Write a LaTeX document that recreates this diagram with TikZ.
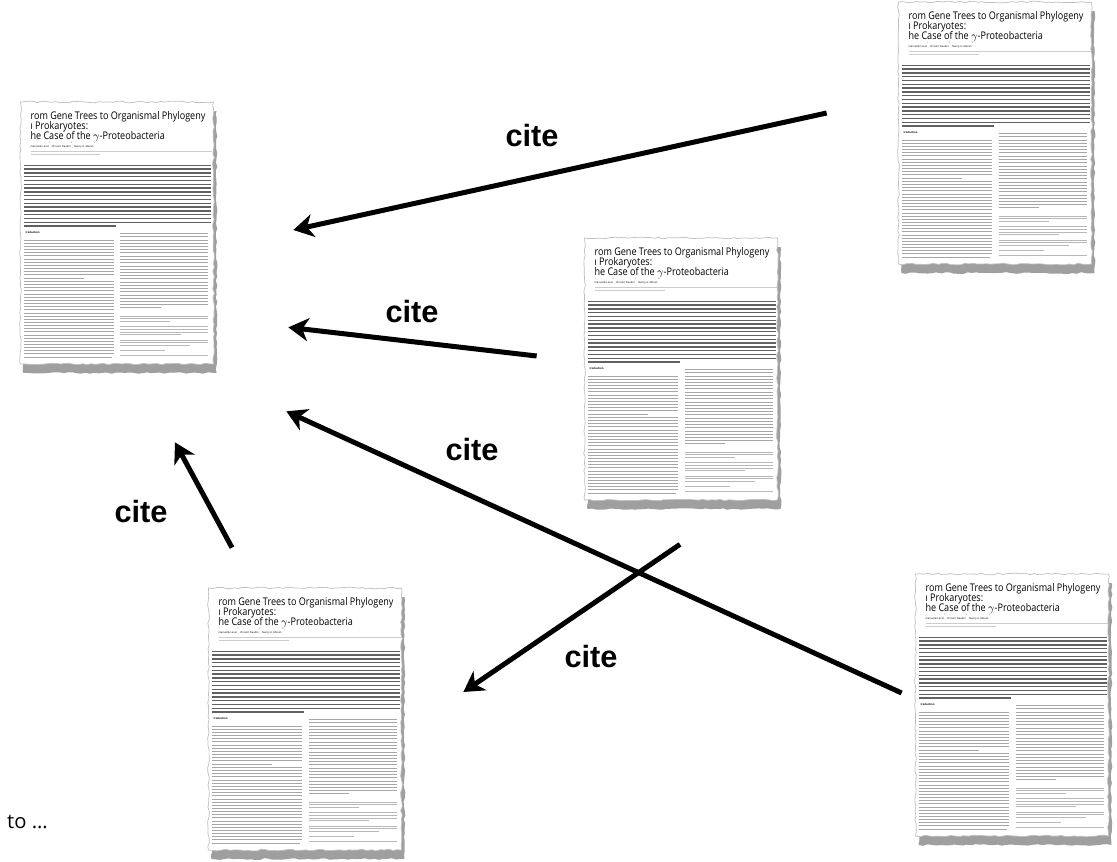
\documentclass[tikz,border=0pt]{standalone}
\usepackage{fontspec}
\usepackage{graphicx}
\usepackage{xcolor}
\usepackage{tikz}
\usetikzlibrary{shapes}
\usetikzlibrary{arrows.meta}
\usetikzlibrary{shadows}
\usetikzlibrary{decorations.pathmorphing}

\newfontfamily\paperfont{Open Sans}
\newfontfamily\citefont{Liberation Sans}

% ----- Page thumbnail ----- %
\newdimen\pp \pp=0.02cm
\newcommand\bl[2]{\vbox to #1\pp{\vfill\hbox{\smash{#2}}}}
\newcommand\txtbar[3]{\textcolor{#3}{\rule{#1\pp}{#2\pp}}}
% gap, lines, width, last width, step, thickness, colour
\newcommand\textblock[7]{%
  \foreach \k in {1,...,#2}{%
    \ifnum\k=1\relax\def\bargap{#1}\else\def\bargap{#5}\fi
    \ifnum\k=#2\relax\def\barlen{#4}\else\def\barlen{#3}\fi
    \bl{\bargap}{\txtbar{\barlen}{#6}{#7}}}}
\newcommand\titleline[1]{\hskip10\pp\scalebox{0.86}[1]{\paperfont\fontsize{6}{7}\selectfont #1}}
\newcommand\paperbody{%
  \vbox to 262\pp{\offinterlineskip
    \hrule width 193\pp height 0pt
    \bl{17}{\titleline{rom Gene Trees to Organismal Phylogeny}}
    \bl{10}{\titleline{ı Prokaryotes:}}
    \bl{10}{\titleline{he Case of the $\gamma$-Proteobacteria}}
    \bl{8}{\hskip10\pp\paperfont\fontsize{1.5}{2}\selectfont manuelle Lerat\textsuperscript{1}, Vincent Daubin\textsuperscript{2}, Nancy A. Moran\textsuperscript{1*}}
    \moveright10\pp\vbox{\textblock{4.5}{2}{182}{70}{3.5}{0.6}{black!20}}
    \moveright3\pp\vbox{\textblock{11}{17}{188}{92}{3.8}{1.35}{black!62}}
    \hbox{\hskip3\pp
      \vtop{\bl{0}{}
        \bl{6.2}{\hskip2\pp\paperfont\bfseries\fontsize{1.5}{2}\selectfont troduction}
        \textblock{7.5}{13}{90}{60}{3.15}{0.8}{black!35}
        \textblock{3.5}{25}{90}{88}{3.15}{0.8}{black!35}}%
      \hskip7\pp
      \vtop{\bl{0}{}
        \textblock{7.2}{7}{88}{88}{3.2}{0.8}{black!35}
        \textblock{3.5}{10}{88}{88}{3.2}{0.8}{black!35}
        \textblock{3.5}{7}{88}{40}{3.2}{0.8}{black!35}
        \textblock{8}{3}{88}{50}{2.6}{0.6}{black!28}
        \textblock{5.5}{4}{88}{60}{2.6}{0.6}{black!28}
        \textblock{5.5}{3}{88}{70}{2.6}{0.6}{black!28}
        \textblock{5}{1}{88}{45}{2.6}{0.6}{black!28}
        \textblock{5}{1}{88}{88}{2.6}{0.6}{black!28}}}
    \vss}}

\begin{document}
\pgfmathsetseed{11}
\begin{tikzpicture}[x=0.02cm, y=-0.02cm,
            % ----- Node definitions ----- %
            papernode/.style = {
                draw = black!25,
                rectangle,
                fill = white,
                inner sep = 0pt,
                decorate,
                decoration = {random steps, segment length = 2.5pt, amplitude = 0.5pt},
                drop shadow = {shadow xshift = 0.6mm, shadow yshift = -1.8mm, opacity = 0.5, fill = black!75}
            },
            citelabel/.style = {
                font = \citefont\bfseries\fontsize{17.5}{20}\selectfont,
                inner sep = 0pt
            },
            citearrow/.style = {
                -{Stealth[length = 0.4cm, width = 0.46cm, inset = 0.12cm]},
                line width = 0.1cm
            },
    ]
    \fill[white] (0,0) rectangle (1117,862);
    \useasboundingbox (0,0) rectangle (1117,862);

            % ----- Node constructions ----- %
        \node [papernode] (paperA) at (117,233) {\paperbody};
        \node [papernode] (paperB) at (995,133) {\paperbody};
        \node [papernode] (paperC) at (681,369) {\paperbody};
        \node [papernode] (paperD) at (305,719) {\paperbody};
        \node [papernode] (paperE) at (1012,705) {\paperbody};

        \node [citelabel] (citeBA) at (532,136) {cite};
        \node [citelabel] (citeCA) at (412,312) {cite};
        \node [citelabel] (citeEA) at (472,450) {cite};
        \node [citelabel] (citeDA) at (141,512) {cite};
        \node [citelabel] (citeCD) at (591,657) {cite};

        \node [anchor=base east, inner sep=0pt, font=\paperfont\fontsize{11.5}{13}\selectfont] (more) at (48,828) {to \ldots};

            % ----- Citations ----- %
        \draw [citearrow] ([shift={(-71.5,-20)}]paperB.west) -- ([shift={(79.5,-3)}]paperA.east);
        \draw [citearrow] ([shift={(-47.5,-13)}]paperC.west) -- ([shift={(74.5,-37)}]paperA.south east);
        \draw [citearrow] ([shift={(-13.5,-12)}]paperE.west) -- ([shift={(72.5,47)}]paperA.south east);
        \draw [citearrow] ([shift={(-73,-40)}]paperD.north) -- ([shift={(58,78)}]paperA.south);
        \draw [citearrow] ([shift={(-1,44)}]paperC.south) -- ([shift={(61.5,-27)}]paperD.east);

\end{tikzpicture}
\end{document}
